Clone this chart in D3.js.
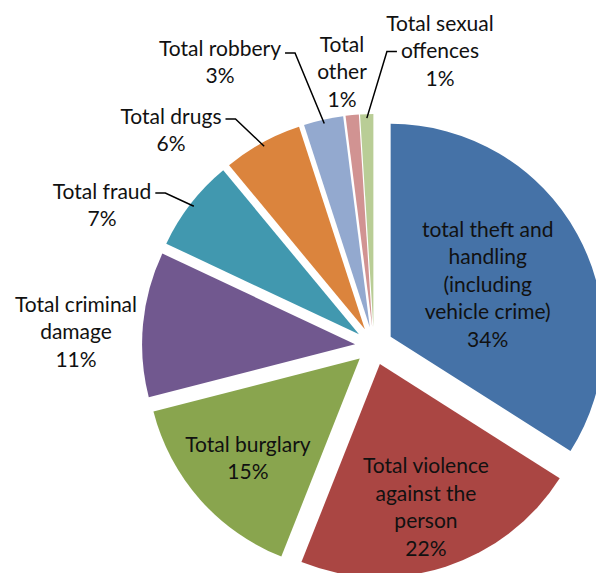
<!DOCTYPE html>
<html>
<head>
<meta charset="utf-8">
<script src="https://cdn.jsdelivr.net/npm/d3@7"></script>
<style>
  html, body { margin: 0; padding: 0; background: #fff; }
  svg { display: block; }
  text { font-family: Lato, "Open Sans", sans-serif; fill: #111; }
</style>
</head>
<body>
<svg id="chart" width="596" height="573"></svg>
<script>
// Recorded offences by category, share of total (%)
const categories = [
  "total theft and handling (including vehicle crime)",
  "Total violence against the person",
  "Total burglary",
  "Total criminal damage",
  "Total fraud",
  "Total drugs",
  "Total robbery",
  "Total other",
  "Total sexual offences"
];
const shares = [34, 22, 15, 11, 7, 6, 3, 1, 1];

// Label text, broken into lines as displayed
const labelLines = [
  ["total theft and", "handling", "(including", "vehicle crime)"],
  ["Total violence", "against the", "person"],
  ["Total burglary"],
  ["Total criminal", "damage"],
  ["Total fraud"],
  ["Total drugs"],
  ["Total robbery"],
  ["Total", "other"],
  ["Total sexual", "offences"]
];

const colors = ["#4572A7", "#AA4643", "#89A54E", "#71588F", "#4198AF",
                "#DB843D", "#93A9CF", "#D19392", "#B9CD96"];

// Geometry and label layout
const cx = 374, cy = 346, radius = 213, explode = 19;
const lineGap = 27.5, fontSize = 21;
// inside labels: fraction of radius along the slice's mid-angle
// outside labels: centre x and first line centre y; leader: which side/line attaches
const labelLayout = [
  { inside: 0.52 },
  { inside: 0.70 },
  { inside: 0.70 },
  { x: 76, y: 303 },
  { x: 102, y: 190, leader: { side: "right", line: 0, dy: 3 } },
  { x: 171, y: 115, leader: { side: "right", line: 0, dy: 4 } },
  { x: 220, y: 47,  leader: { side: "right", line: 0, dy: 6 } },
  { x: 342, y: 43 },
  { x: 440, y: 22,  leader: { side: "left", line: 1, dy: 2 } }
];

const data = categories.map((c, i) => ({ name: c, value: shares[i], i }));

const pie = d3.pie().value(d => d.value).sort(null).startAngle(0).endAngle(2 * Math.PI);
const arcs = pie(data);
const arc = d3.arc().innerRadius(0).outerRadius(radius);

const svg = d3.select("#chart");
const g = svg.append("g").attr("transform", `translate(${cx},${cy})`);

function dir(a) { return [Math.sin(a), -Math.cos(a)]; }

arcs.forEach(a => {
  const mid = (a.startAngle + a.endAngle) / 2;
  const [dx, dy] = dir(mid);
  a.mid = mid;
  a.off = [dx * explode, dy * explode];
});

g.selectAll("path.slice")
  .data(arcs)
  .join("path")
  .attr("class", "slice")
  .attr("d", arc)
  .attr("fill", d => colors[d.data.i])
  .attr("transform", d => `translate(${d.off[0]},${d.off[1]})`);

// Labels
const labelG = svg.append("g");
arcs.forEach(a => {
  const i = a.data.i;
  const lay = labelLayout[i];
  const lines = labelLines[i].concat([d3.format(".0f")(a.data.value) + "%"]);
  let x, y0;
  if (lay.inside !== undefined) {
    const [dx, dy] = dir(a.mid);
    const px = cx + a.off[0] + dx * radius * lay.inside;
    const py = cy + a.off[1] + dy * radius * lay.inside;
    x = px;
    y0 = py - (lines.length - 1) * lineGap / 2;
  } else {
    x = lay.x; y0 = lay.y;
  }
  const t = labelG.append("text")
    .attr("text-anchor", "middle")
    .attr("font-size", fontSize);
  const spans = lines.map((ln, k) =>
    t.append("tspan")
      .attr("x", x)
      .attr("y", y0 + k * lineGap)
      .attr("dominant-baseline", "central")
      .text(ln));

  if (lay.leader) {
    const sp = spans[lay.leader.line].node();
    const w = sp.getComputedTextLength();
    const ly = y0 + lay.leader.line * lineGap + lay.leader.dy;
    const sx = lay.leader.side === "right" ? x + w / 2 + 4 : x - w / 2 - 4;
    const hx = lay.leader.side === "right" ? sx + 10 : sx - 10;
    const [dx, dy] = dir(a.mid);
    const ex = cx + a.off[0] + dx * (radius - 4);
    const ey = cy + a.off[1] + dy * (radius - 4);
    labelG.append("path")
      .attr("d", d3.line()([[sx, ly], [hx, ly], [ex, ey]]))
      .attr("fill", "none")
      .attr("stroke", "#000")
      .attr("stroke-width", 1.5);
  }
});
</script>
</body>
</html>
